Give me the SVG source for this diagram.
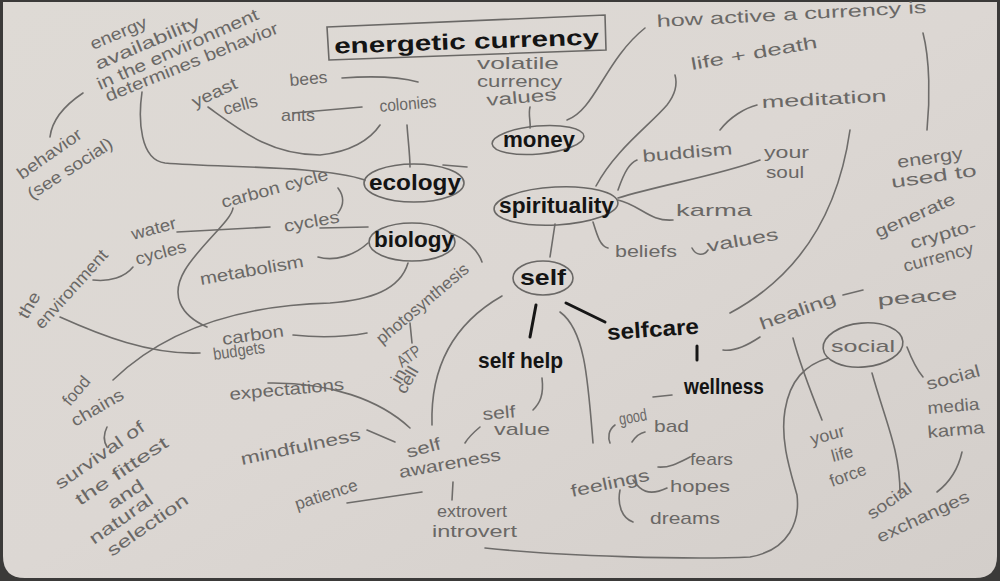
<svg xmlns="http://www.w3.org/2000/svg" width="1000" height="581" viewBox="0 0 1000 581">
<defs>
<linearGradient id="paper" x1="0" y1="0" x2="1" y2="1">
<stop offset="0" stop-color="#dedad5"/>
<stop offset="0.5" stop-color="#dcd7d3"/>
<stop offset="1" stop-color="#d3ceca"/>
</linearGradient>
<style>
.p{font-family:"Liberation Sans","DejaVu Sans",sans-serif;fill:#6a6866;font-size:17px;}
.m{font-family:"Liberation Sans","DejaVu Sans",sans-serif;fill:#141414;font-size:22px;font-weight:bold;}
.c{fill:none;stroke:#6e6c6a;stroke-width:1.6;stroke-linecap:round;}
.k{fill:none;stroke:#161616;stroke-width:3;stroke-linecap:round;}
.e{fill:none;stroke:#6a6866;stroke-width:1.6;}
</style>
</defs>
<rect x="0" y="0" width="1000" height="581" fill="#3b3a39"/>
<path d="M3,2 L997,2 L997,556 Q997,578 975,578 L25,578 Q3,578 3,556 Z" fill="url(#paper)"/>

<g id="connectors">
<path class="c" d="M530,107 C528,115 531,122 530,128"/>
<path class="c" d="M567,120 C595,110 605,60 645,28"/>
<path class="c" d="M596,186 C615,150 650,125 667,105 C677,92 677,82 675,75"/>
<path class="c" d="M720,130 C730,117 745,108 757,105"/>
<path class="c" d="M618,190 C625,170 630,163 637,160"/>
<path class="c" d="M618,198 C660,185 720,175 760,160"/>
<path class="c" d="M618,200 C640,205 650,222 673,220"/>
<path class="c" d="M593,222 C597,235 600,246 608,248"/>
<path class="c" d="M692,248 C696,256 704,256 708,250"/>
<path class="c" d="M555,224 L550,257"/>
<path class="c" d="M560,312 C585,330 588,380 593,443"/>
<path class="c" d="M502,296 C460,320 430,360 432,425"/>
<path class="c" d="M542,378 C544,395 540,403 533,410"/>
<path class="c" d="M480,427 C474,432 468,438 465,443"/>
<path class="c" d="M268,383 C330,382 380,400 410,428"/>
<path class="c" d="M367,430 L395,442"/>
<path class="c" d="M347,503 L422,492"/>
<path class="c" d="M453,482 L452,500"/>
<path class="c" d="M485,548 C560,556 690,560 750,557 C790,550 800,520 797,495 C790,470 780,440 785,410 C790,380 805,365 828,358"/>
<path class="c" d="M615,425 C608,430 608,438 610,443"/>
<path class="c" d="M632,442 C636,436 640,433 645,432"/>
<path class="c" d="M653,397 L672,395"/>
<path class="c" d="M658,467 C670,468 680,462 690,457"/>
<path class="c" d="M633,480 C640,490 648,497 667,488"/>
<path class="c" d="M620,490 C617,505 622,518 633,522"/>
<path class="c" d="M723,350 C735,352 748,345 760,337"/>
<path class="c" d="M843,295 L863,290"/>
<path class="c" d="M850,130 C840,200 810,270 730,313"/>
<path class="c" d="M793,338 C800,365 812,395 822,420"/>
<path class="c" d="M872,373 C885,420 900,450 900,493"/>
<path class="c" d="M907,347 C912,360 917,370 923,377"/>
<path class="c" d="M962,452 C958,470 950,482 937,492"/>
<path class="c" d="M923,33 C930,60 930,100 927,130"/>
<path class="c" d="M142,92 C138,120 140,160 165,163 C220,168 320,165 365,180"/>
<path class="c" d="M208,107 C240,130 270,155 320,155 C350,152 370,140 380,125"/>
<path class="c" d="M342,78 C370,76 400,77 418,82"/>
<path class="c" d="M293,113 L362,107"/>
<path class="c" d="M407,125 C408,140 410,155 410,167"/>
<path class="c" d="M443,165 L467,167"/>
<path class="c" d="M450,233 C465,238 478,250 482,262"/>
<path class="c" d="M408,263 C400,290 370,300 330,303 C250,305 170,325 113,380"/>
<path class="c" d="M318,257 C335,262 355,255 368,243"/>
<path class="c" d="M320,228 L368,227"/>
<path class="c" d="M177,232 L270,227"/>
<path class="c" d="M233,208 C232,220 200,245 185,270 C170,295 180,315 207,327"/>
<path class="c" d="M93,280 C110,282 125,277 133,267"/>
<path class="c" d="M60,317 C100,335 150,355 200,353"/>
<path class="c" d="M293,335 C320,338 345,337 367,333"/>
<path class="c" d="M410,323 L412,343"/>
<path class="c" d="M83,93 C65,105 52,120 50,137"/>
<path class="c" d="M107,427 C103,435 104,442 107,447"/>
<path class="c" d="M338,188 C344,196 344,205 338,213"/>
<path class="k" d="M536,305 L530,337"/>
<path class="k" d="M566,303 L605,322"/>
<path class="k" d="M697,346 L697,360"/>
</g>

<g id="title">
<path class="e" d="M327,27 L605,15 L606,50 L329,60 Z"/>
<text class="m" x="334" y="49" font-size="28" textLength="265" lengthAdjust="spacingAndGlyphs" transform="rotate(-2 466 40)">energetic currency</text>
</g>
<g id="money">
<ellipse class="e" cx="538" cy="140" rx="46" ry="14" transform="rotate(-5 538 140)"/>
<text class="m" x="503" y="147" textLength="72" lengthAdjust="spacingAndGlyphs">money</text>
</g>
<g id="ecology">
<ellipse class="e" cx="414" cy="183" rx="50" ry="19"/>
<text class="m" x="369" y="190" font-size="24" textLength="92" lengthAdjust="spacingAndGlyphs">ecology</text>
</g>
<g id="biology">
<ellipse class="e" cx="412" cy="242" rx="43" ry="19"/>
<text class="m" x="374" y="247" font-size="24" textLength="80" lengthAdjust="spacingAndGlyphs">biology</text>
</g>
<g id="spirituality">
<ellipse class="e" cx="556" cy="206" rx="62" ry="19" transform="rotate(-3 556 206)"/>
<text class="m" x="499" y="213" font-size="24" textLength="115" lengthAdjust="spacingAndGlyphs">spirituality</text>
</g>
<g id="self">
<ellipse class="e" cx="543" cy="278" rx="30" ry="17"/>
<text class="m" x="520" y="285" font-size="24" textLength="46" lengthAdjust="spacingAndGlyphs">self</text>
</g>
<g id="selfhelp"><text class="m" x="478" y="368" textLength="85" lengthAdjust="spacingAndGlyphs">self help</text></g>
<g id="selfcare"><text class="m" x="607" y="337" textLength="92" lengthAdjust="spacingAndGlyphs" transform="rotate(-4 650 330)">selfcare</text></g>
<g id="wellness"><text class="m" x="684" y="394" font-size="20" textLength="80" lengthAdjust="spacingAndGlyphs">wellness</text></g>
<g id="social">
<ellipse class="e" cx="863" cy="345" rx="40" ry="22" transform="rotate(-5 863 345)"/>
<text class="p" x="831" y="352" font-size="19" textLength="64" lengthAdjust="spacingAndGlyphs">social</text>
</g>

<g id="energy-availability">
<text class="p" transform="translate(93,50) rotate(-23)" textLength="60" lengthAdjust="spacingAndGlyphs">energy</text>
<text class="p" transform="translate(98,70) rotate(-23)" textLength="112" lengthAdjust="spacingAndGlyphs">availability</text>
<text class="p" transform="translate(100,90) rotate(-24)" textLength="175" lengthAdjust="spacingAndGlyphs">in the environment</text>
<text class="p" transform="translate(108,102) rotate(-22)" textLength="185" lengthAdjust="spacingAndGlyphs">determines behavior</text>
</g>
<g id="behavior">
<text class="p" transform="translate(22,180) rotate(-35)" textLength="75" lengthAdjust="spacingAndGlyphs">behavior</text>
<text class="p" transform="translate(32,200) rotate(-33)" textLength="98" lengthAdjust="spacingAndGlyphs">(see social)</text>
</g>
<g id="yeast"><text class="p" transform="translate(195,108) rotate(-25)" font-size="16" textLength="48" lengthAdjust="spacingAndGlyphs">yeast</text>
<text class="p" transform="translate(225,115) rotate(-15)" font-size="16" textLength="35" lengthAdjust="spacingAndGlyphs">cells</text></g>
<g id="bees"><text class="p" transform="translate(290,86) rotate(-5)" textLength="38" lengthAdjust="spacingAndGlyphs">bees</text></g>
<g id="ants"><text class="p" x="281" y="121" textLength="34" lengthAdjust="spacingAndGlyphs">ants</text></g>
<g id="colonies"><text class="p" transform="translate(380,112) rotate(-5)" font-size="16" textLength="57" lengthAdjust="spacingAndGlyphs">colonies</text></g>
<g id="volatile">
<text class="p" x="477" y="69" font-size="16" textLength="82" lengthAdjust="spacingAndGlyphs">volatile</text>
<text class="p" x="477" y="87" font-size="16" textLength="85" lengthAdjust="spacingAndGlyphs">currency</text>
<text class="p" transform="translate(487,106) rotate(-5)" font-size="16" textLength="70" lengthAdjust="spacingAndGlyphs">values</text>
</g>
<g id="how-active"><text class="p" transform="translate(657,27) rotate(-3)" font-size="20" textLength="270" lengthAdjust="spacingAndGlyphs">how active a currency is</text></g>
<g id="life-death"><text class="p" transform="translate(692,70) rotate(-10)" font-size="18" textLength="128" lengthAdjust="spacingAndGlyphs">life + death</text></g>
<g id="meditation"><text class="p" transform="translate(762,108) rotate(-3)" font-size="18" textLength="125" lengthAdjust="spacingAndGlyphs">meditation</text></g>
<g id="buddism"><text class="p" transform="translate(643,162) rotate(-5)" font-size="18" textLength="90" lengthAdjust="spacingAndGlyphs">buddism</text></g>
<g id="your-soul"><text class="p" x="764" y="158" textLength="45" lengthAdjust="spacingAndGlyphs">your</text>
<text class="p" x="766" y="178" textLength="38" lengthAdjust="spacingAndGlyphs">soul</text></g>
<g id="karma"><text class="p" x="676" y="216" font-size="18" textLength="76" lengthAdjust="spacingAndGlyphs">karma</text></g>
<g id="beliefs"><text class="p" x="615" y="257" font-size="18" textLength="62" lengthAdjust="spacingAndGlyphs">beliefs</text></g>
<g id="values"><text class="p" transform="translate(708,252) rotate(-10)" font-size="18" textLength="72" lengthAdjust="spacingAndGlyphs">values</text></g>
<g id="crypto">
<text class="p" transform="translate(898,168) rotate(-8)" textLength="66" lengthAdjust="spacingAndGlyphs">energy</text>
<text class="p" transform="translate(892,188) rotate(-8)" textLength="86" lengthAdjust="spacingAndGlyphs">used to</text>
<text class="p" transform="translate(878,238) rotate(-24)" textLength="86" lengthAdjust="spacingAndGlyphs">generate</text>
<text class="p" transform="translate(912,249) rotate(-16)" textLength="68" lengthAdjust="spacingAndGlyphs">crypto-</text>
<text class="p" transform="translate(905,272) rotate(-15)" textLength="72" lengthAdjust="spacingAndGlyphs">currency</text>
</g>
<g id="water-cycles"><text class="p" transform="translate(133,240) rotate(-15)" textLength="46" lengthAdjust="spacingAndGlyphs">water</text>
<text class="p" transform="translate(137,265) rotate(-15)" font-size="18" textLength="52" lengthAdjust="spacingAndGlyphs">cycles</text></g>
<g id="environment"><text class="p" transform="translate(27,320) rotate(-60)" textLength="28" lengthAdjust="spacingAndGlyphs">the</text>
<text class="p" transform="translate(42,330) rotate(-48)" textLength="100" lengthAdjust="spacingAndGlyphs">environment</text></g>
<g id="carbon-cycle"><text class="p" transform="translate(223,208) rotate(-15)" textLength="110" lengthAdjust="spacingAndGlyphs">carbon cycle</text></g>
<g id="cycles"><text class="p" transform="translate(285,232) rotate(-10)" textLength="56" lengthAdjust="spacingAndGlyphs">cycles</text></g>
<g id="metabolism"><text class="p" transform="translate(201,285) rotate(-10)" font-size="18" textLength="105" lengthAdjust="spacingAndGlyphs">metabolism</text></g>
<g id="carbon-budgets"><text class="p" transform="translate(223,345) rotate(-8)" textLength="62" lengthAdjust="spacingAndGlyphs">carbon</text>
<text class="p" transform="translate(214,360) rotate(-8)" font-size="15" textLength="52" lengthAdjust="spacingAndGlyphs">budgets</text></g>
<g id="photosynthesis"><text class="p" transform="translate(382,345) rotate(-40)" textLength="115" lengthAdjust="spacingAndGlyphs">photosynthesis</text></g>
<g id="atp"><text class="p" transform="translate(402,368) rotate(-35)" font-size="13" textLength="25" lengthAdjust="spacingAndGlyphs">ATP</text>
<text class="p" transform="translate(400,385) rotate(-60)" font-size="13" textLength="14" lengthAdjust="spacingAndGlyphs">in</text>
<text class="p" transform="translate(405,395) rotate(-60)" font-size="13" textLength="28" lengthAdjust="spacingAndGlyphs">cell</text></g>
<g id="expectations"><text class="p" transform="translate(230,400) rotate(-5)" font-size="19" textLength="115" lengthAdjust="spacingAndGlyphs">expectations</text></g>
<g id="mindfulness"><text class="p" transform="translate(242,465) rotate(-12)" font-size="19" textLength="122" lengthAdjust="spacingAndGlyphs">mindfulness</text></g>
<g id="patience"><text class="p" transform="translate(297,510) rotate(-18)" textLength="65" lengthAdjust="spacingAndGlyphs">patience</text></g>
<g id="self-value"><text class="p" transform="translate(483,420) rotate(-5)" font-size="14" textLength="33" lengthAdjust="spacingAndGlyphs">self</text>
<text class="p" x="494" y="435" textLength="56" lengthAdjust="spacingAndGlyphs">value</text></g>
<g id="self-awareness"><text class="p" transform="translate(408,458) rotate(-15)" font-size="19" textLength="35" lengthAdjust="spacingAndGlyphs">self</text>
<text class="p" transform="translate(400,478) rotate(-10)" font-size="19" textLength="103" lengthAdjust="spacingAndGlyphs">awareness</text></g>
<g id="extrovert"><text class="p" x="437" y="517" font-size="16" textLength="70" lengthAdjust="spacingAndGlyphs">extrovert</text>
<text class="p" x="432" y="537" font-size="19" textLength="85" lengthAdjust="spacingAndGlyphs">introvert</text></g>
<g id="feelings"><text class="p" transform="translate(572,497) rotate(-12)" font-size="24" textLength="80" lengthAdjust="spacingAndGlyphs">feelings</text></g>
<g id="good"><text class="p" transform="translate(620,425) rotate(-10)" font-size="13" textLength="28" lengthAdjust="spacingAndGlyphs">good</text></g>
<g id="bad"><text class="p" x="654" y="432" font-size="16" textLength="35" lengthAdjust="spacingAndGlyphs">bad</text></g>
<g id="fears"><text class="p" x="690" y="465" font-size="18" textLength="43" lengthAdjust="spacingAndGlyphs">fears</text></g>
<g id="hopes"><text class="p" x="670" y="492" font-size="20" textLength="60" lengthAdjust="spacingAndGlyphs">hopes</text></g>
<g id="dreams"><text class="p" x="650" y="524" font-size="18" textLength="70" lengthAdjust="spacingAndGlyphs">dreams</text></g>
<g id="healing"><text class="p" transform="translate(762,330) rotate(-20)" font-size="19" textLength="80" lengthAdjust="spacingAndGlyphs">healing</text></g>
<g id="peace"><text class="p" transform="translate(878,306) rotate(-5)" font-size="19" textLength="80" lengthAdjust="spacingAndGlyphs">peace</text></g>
<g id="life-force"><text class="p" transform="translate(812,445) rotate(-15)" textLength="35" lengthAdjust="spacingAndGlyphs">your</text>
<text class="p" transform="translate(833,462) rotate(-15)" font-size="15" textLength="22" lengthAdjust="spacingAndGlyphs">life</text>
<text class="p" transform="translate(832,487) rotate(-20)" textLength="38" lengthAdjust="spacingAndGlyphs">force</text></g>
<g id="social-media"><text class="p" transform="translate(928,390) rotate(-15)" font-size="16" textLength="55" lengthAdjust="spacingAndGlyphs">social</text>
<text class="p" transform="translate(928,414) rotate(-5)" font-size="16" textLength="52" lengthAdjust="spacingAndGlyphs">media</text>
<text class="p" transform="translate(928,438) rotate(-5)" font-size="16" textLength="57" lengthAdjust="spacingAndGlyphs">karma</text></g>
<g id="social-exchanges"><text class="p" transform="translate(872,520) rotate(-35)" textLength="50" lengthAdjust="spacingAndGlyphs">social</text>
<text class="p" transform="translate(880,543) rotate(-25)" textLength="100" lengthAdjust="spacingAndGlyphs">exchanges</text></g>
<g id="food-chains"><text class="p" transform="translate(70,407) rotate(-50)" textLength="33" lengthAdjust="spacingAndGlyphs">food</text>
<text class="p" transform="translate(75,427) rotate(-30)" textLength="58" lengthAdjust="spacingAndGlyphs">chains</text></g>
<g id="survival">
<text class="p" transform="translate(60,490) rotate(-35)" font-size="15" textLength="105" lengthAdjust="spacingAndGlyphs">survival of</text>
<text class="p" transform="translate(80,506) rotate(-34)" font-size="15" textLength="108" lengthAdjust="spacingAndGlyphs">the fittest</text>
<text class="p" transform="translate(112,510) rotate(-33)" font-size="15" textLength="40" lengthAdjust="spacingAndGlyphs">and</text>
<text class="p" transform="translate(94,545) rotate(-35)" font-size="15" textLength="74" lengthAdjust="spacingAndGlyphs">natural</text>
<text class="p" transform="translate(112,557) rotate(-35)" font-size="15" textLength="95" lengthAdjust="spacingAndGlyphs">selection</text>
</g>
</svg>
